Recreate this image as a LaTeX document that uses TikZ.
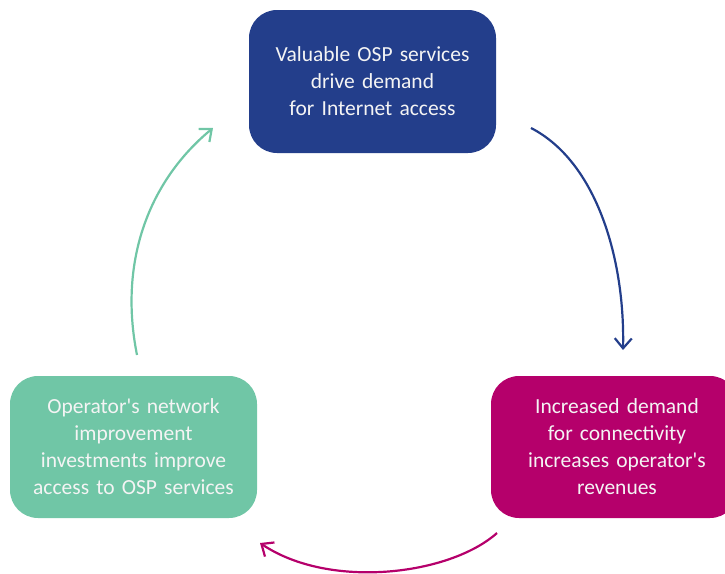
\documentclass[tikz,border=0pt]{standalone}
\usepackage{fontspec}
\setmainfont{Carlito}[Ligatures=TeXOff]
\usetikzlibrary{arrows.meta}
\definecolor{cblue}{HTML}{233E8B}
\definecolor{cmag}{HTML}{B5006B}
\definecolor{cgreen}{HTML}{70C6A6}
\definecolor{ctext}{HTML}{F4F4F4}
\begin{document}
\begin{tikzpicture}[x=1pt,y=-1pt,
  box/.style={rounded corners=28pt, minimum width=247pt, minimum height=143pt,
    text width=240pt, align=center, inner sep=0pt, text=ctext,
    font=\fontsize{21.5}{27}\selectfont},
  cyc/.style={line width=2.2pt, -{Straight Barb[length=10pt,width=17pt,line width=2.2pt]}}]
\useasboundingbox (0,0) rectangle (725,573);
\clip (0,0) rectangle (725,573);
\node[box, fill=cblue] (top) at (372.5,81.5) {Valuable OSP services\\drive demand\\for Internet access};
\node[box, fill=cmag, minimum height=142pt] (right) at (614.5,447) {\hspace*{5pt}Increased demand\\\hspace*{5pt}for connectivity\\\hspace*{5pt}increases operator's\\\hspace*{5pt}revenues};
\node[box, fill=cgreen, minimum height=142pt] (left) at (133.5,447) {Operator's network\\improvement\\investments improve\\access to OSP services};
\coordinate (b1) at (531,128);
\coordinate (b2) at (623,350);
\coordinate (m1) at (497,533);
\coordinate (m2) at (260,543);
\coordinate (g1) at (137,355);
\coordinate (g2) at (213,128);
\draw[cyc, cblue] (b1) .. controls (597,162) and (625,260) .. (b2);
\draw[cyc, cmag] (m1) .. controls (450,575) and (330,590) .. (m2);
\draw[cyc, cgreen] (g1) .. controls (118,260) and (150,180) .. (g2);
\end{tikzpicture}
\end{document}
